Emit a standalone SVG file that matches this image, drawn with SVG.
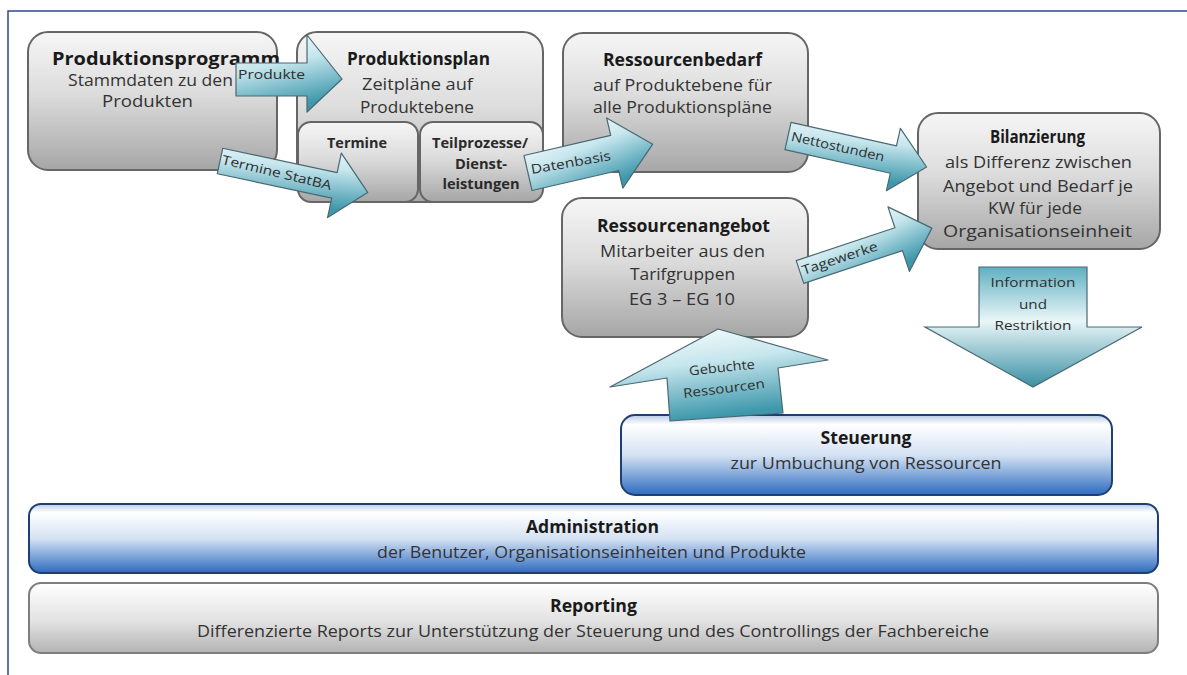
<svg xmlns="http://www.w3.org/2000/svg" width="1187" height="675" viewBox="0 0 1187 675">
  <defs>
    <linearGradient id="gGray" x1="0" y1="0" x2="0" y2="1">
      <stop offset="0" stop-color="#f6f6f6"/>
      <stop offset="0.45" stop-color="#dcdcdc"/>
      <stop offset="1" stop-color="#a6a6a6"/>
    </linearGradient>
    <linearGradient id="gRep" x1="0" y1="0" x2="0" y2="1">
      <stop offset="0" stop-color="#ffffff"/>
      <stop offset="0.55" stop-color="#e2e2e2"/>
      <stop offset="1" stop-color="#b3b3b3"/>
    </linearGradient>
    <linearGradient id="gBlue" x1="0" y1="0" x2="0" y2="1">
      <stop offset="0" stop-color="#b8cbe6"/>
      <stop offset="0.12" stop-color="#ffffff"/>
      <stop offset="0.5" stop-color="#d5e2f3"/>
      <stop offset="1" stop-color="#2d6bc0"/>
    </linearGradient>
    <linearGradient id="gArrow" x1="0" y1="0" x2="0.3" y2="1">
      <stop offset="0" stop-color="#ffffff"/>
      <stop offset="0.45" stop-color="#c6e6ed"/>
      <stop offset="1" stop-color="#3e98ac"/>
    </linearGradient>
    <linearGradient id="gDown" x1="0" y1="0" x2="0" y2="1">
      <stop offset="0" stop-color="#5fb0c2"/>
      <stop offset="0.45" stop-color="#eaf6f8"/>
      <stop offset="1" stop-color="#3a90a4"/>
    </linearGradient>
    <style>
      .box { fill: url(#gGray); stroke: #666666; stroke-width: 2; }
      .rep { fill: url(#gRep); stroke: #7e7e7e; stroke-width: 2; }
      .blue { fill: url(#gBlue); stroke: #1f3f72; stroke-width: 2; }
      .arr { fill: url(#gArrow); stroke: #4b6872; stroke-width: 1.2; stroke-linejoin: round; }
      .down { fill: url(#gDown); stroke: #4b6872; stroke-width: 1.2; }
      text { font-family: "Open Sans", "Liberation Sans", sans-serif; text-anchor: middle; }
      .t { font-size: 17px; font-weight: bold; fill: #1a1a1a; }
      .s { font-size: 17px; fill: #333333; }
      .st { font-size: 14px; font-weight: bold; fill: #2a2a2a; }
      .a { font-size: 13px; fill: #2e2e2e; }
      .ai { font-size: 12px; fill: #2e2e2e; }
      .frame { fill: none; stroke: #2c4a86; stroke-width: 1.5; }
    </style>
  </defs>

  <path class="frame" d="M8,675 L8,11 L1187,11"/>

  <g id="produktionsprogramm">
    <rect class="box" x="28" y="32" width="249" height="138" rx="20"/>
    <text class="t" x="166" y="65" textLength="228" lengthAdjust="spacingAndGlyphs">Produktionsprogramm</text>
    <text class="s" x="150.5" y="86" textLength="165" lengthAdjust="spacingAndGlyphs">Stammdaten zu den</text>
    <text class="s" x="147.5" y="107" textLength="91" lengthAdjust="spacingAndGlyphs">Produkten</text>
  </g>

  <g id="produktionsplan">
    <rect class="box" x="297" y="32" width="246" height="170" rx="20"/>
    <text class="t" x="418.5" y="65" textLength="143" lengthAdjust="spacingAndGlyphs">Produktionsplan</text>
    <text class="s" x="417.5" y="90" textLength="111" lengthAdjust="spacingAndGlyphs">Zeitpläne auf</text>
    <text class="s" x="417" y="113" textLength="114" lengthAdjust="spacingAndGlyphs">Produktebene</text>
  </g>

  <g id="termine">
    <rect class="box" x="298" y="122" width="120" height="80" rx="13"/>
    <text class="st" x="357" y="148" textLength="60" lengthAdjust="spacingAndGlyphs">Termine</text>
  </g>

  <g id="teilprozesse">
    <rect class="box" x="420" y="122" width="123" height="80" rx="13"/>
    <text class="st" x="480" y="148" textLength="96" lengthAdjust="spacingAndGlyphs">Teilprozesse/</text>
    <text class="st" x="481" y="169" textLength="52" lengthAdjust="spacingAndGlyphs">Dienst-</text>
    <text class="st" x="481" y="189" textLength="77" lengthAdjust="spacingAndGlyphs">leistungen</text>
  </g>

  <g id="ressourcenbedarf">
    <rect class="box" x="563" y="33" width="245" height="139" rx="20"/>
    <text class="t" x="682.5" y="66" textLength="159" lengthAdjust="spacingAndGlyphs">Ressourcenbedarf</text>
    <text class="s" x="682.5" y="91" textLength="179" lengthAdjust="spacingAndGlyphs">auf Produktebene  für</text>
    <text class="s" x="682.5" y="113" textLength="179" lengthAdjust="spacingAndGlyphs">alle Produktionspläne</text>
  </g>

  <g id="ressourcenangebot">
    <rect class="box" x="562" y="198" width="246" height="139" rx="20"/>
    <text class="t" x="683.5" y="232" textLength="173" lengthAdjust="spacingAndGlyphs">Ressourcenangebot</text>
    <text class="s" x="682.5" y="257" textLength="165" lengthAdjust="spacingAndGlyphs">Mitarbeiter aus den</text>
    <text class="s" x="682.5" y="280" textLength="105" lengthAdjust="spacingAndGlyphs">Tarifgruppen</text>
    <text class="s" x="682" y="305" textLength="106" lengthAdjust="spacingAndGlyphs">EG 3 – EG 10</text>
  </g>

  <g id="bilanzierung">
    <rect class="box" x="918" y="113" width="242" height="136" rx="20"/>
    <text class="t" x="1037.5" y="143" textLength="95" lengthAdjust="spacingAndGlyphs">Bilanzierung</text>
    <text class="s" x="1038.5" y="168" textLength="187" lengthAdjust="spacingAndGlyphs">als Differenz zwischen</text>
    <text class="s" x="1038" y="192" textLength="190" lengthAdjust="spacingAndGlyphs">Angebot und Bedarf je</text>
    <text class="s" x="1035" y="214" textLength="94" lengthAdjust="spacingAndGlyphs">KW für jede</text>
    <text class="s" x="1037.5" y="237" textLength="189" lengthAdjust="spacingAndGlyphs">Organisationseinheit</text>
  </g>

  <g id="steuerung">
    <rect class="blue" x="621" y="415" width="491" height="80" rx="14"/>
    <text class="t" x="866" y="444" textLength="91" lengthAdjust="spacingAndGlyphs">Steuerung</text>
    <text class="s" x="866" y="469" textLength="271" lengthAdjust="spacingAndGlyphs">zur Umbuchung von Ressourcen</text>
  </g>

  <g id="administration">
    <rect class="blue" x="29" y="504" width="1129" height="69" rx="12"/>
    <text class="t" x="592.5" y="533" textLength="133" lengthAdjust="spacingAndGlyphs">Administration</text>
    <text class="s" x="591.5" y="558" textLength="429" lengthAdjust="spacingAndGlyphs">der Benutzer, Organisationseinheiten und Produkte</text>
  </g>

  <g id="reporting">
    <rect class="rep" x="29" y="583" width="1129" height="70" rx="12"/>
    <text class="t" x="593.5" y="612" textLength="87" lengthAdjust="spacingAndGlyphs">Reporting</text>
    <text class="s" x="593" y="637" textLength="792" lengthAdjust="spacingAndGlyphs">Differenzierte Reports zur Unterstützung der Steuerung und des Controllings der Fachbereiche</text>
  </g>

  <g id="connectors">
    <g id="c-produkte">
      <path class="arr" d="M236,63 L307,63 L307,35 L342,79 L307,112 L307,96 L236,96 Z"/>
      <text class="a" x="271.5" y="79" textLength="67" lengthAdjust="spacingAndGlyphs">Produkte</text>
    </g>
    <g id="c-termine-statba" transform="translate(220,161) rotate(12)">
      <path class="arr" d="M0,-13 L117,-13 L117,-33 L151,0 L117,33 L117,13 L0,13 Z"/>
      <text class="a" x="58" y="4" textLength="112" lengthAdjust="spacingAndGlyphs" transform="rotate(1.5 58 0)">Termine StatBA</text>
    </g>
    <g id="c-datenbasis" transform="translate(528,173) rotate(-13)">
      <path class="arr" d="M0,-18 L89,-18 L89,-36 L128,0 L89,36 L89,18 L0,18 Z"/>
      <text class="a" x="44" y="4" textLength="81" lengthAdjust="spacingAndGlyphs" transform="rotate(3 44 0)">Datenbasis</text>
    </g>
    <g id="c-nettostunden" transform="translate(788,136) rotate(12.6)">
      <path class="arr" d="M0,-14 L108,-14 L108,-32 L142,0 L108,32 L108,14 L0,14 Z"/>
      <text class="a" x="51" y="4" textLength="95" lengthAdjust="spacingAndGlyphs">Nettostunden</text>
    </g>
    <g id="c-tagewerke" transform="translate(800,272) rotate(-18.4)">
      <path class="arr" d="M0,-12 L104,-12 L104,-34 L139,0 L104,34 L104,12 L0,12 Z"/>
      <text class="a" x="42" y="4" textLength="79" lengthAdjust="spacingAndGlyphs">Tagewerke</text>
    </g>
    <g id="c-gebuchte">
      <path class="arr" d="M718,329 L828,360 L778,368 L783,413 L670,421 L667,378 L610,387 Z"/>
      <text class="a" x="722" y="372" textLength="66" lengthAdjust="spacingAndGlyphs" transform="rotate(-6 722 368)">Gebuchte</text>
      <text class="a" x="724" y="393" textLength="82" lengthAdjust="spacingAndGlyphs" transform="rotate(-7 724 389)">Ressourcen</text>
    </g>
    <g id="c-information">
      <path class="down" d="M979,267 L1087,267 L1087,327 L1142,327 L1033,387 L925,327 L979,327 Z"/>
      <text class="ai" x="1033" y="287" textLength="85" lengthAdjust="spacingAndGlyphs">Information</text>
      <text class="ai" x="1033" y="309" textLength="28" lengthAdjust="spacingAndGlyphs">und</text>
      <text class="ai" x="1033" y="330" textLength="77" lengthAdjust="spacingAndGlyphs">Restriktion</text>
    </g>
  </g>
</svg>
